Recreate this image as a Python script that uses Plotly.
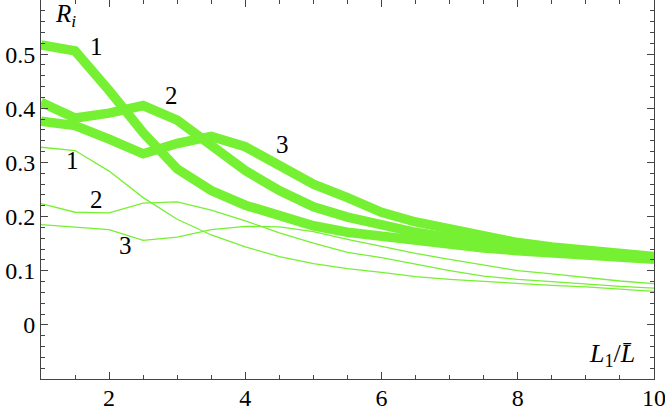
import plotly.graph_objects as go

x_vals = [1, 1.5, 2, 2.5, 3, 3.5, 4, 4.5, 5, 5.5, 6, 6.5, 7, 7.5, 8, 8.5, 9, 9.5, 10]

thick_1 = [0.517, 0.506, 0.433, 0.355, 0.288, 0.248, 0.221, 0.202, 0.183, 0.171, 0.163, 0.156, 0.148, 0.142, 0.137, 0.133, 0.129, 0.125, 0.121]
thick_2 = [0.411, 0.382, 0.391, 0.405, 0.378, 0.331, 0.285, 0.248, 0.218, 0.199, 0.184, 0.171, 0.161, 0.152, 0.144, 0.138, 0.133, 0.128, 0.124]
thick_3 = [0.376, 0.368, 0.343, 0.316, 0.335, 0.348, 0.329, 0.295, 0.260, 0.235, 0.208, 0.190, 0.176, 0.163, 0.152, 0.144, 0.137, 0.131, 0.126]

thin_1 = [0.328, 0.322, 0.284, 0.235, 0.195, 0.166, 0.144, 0.126, 0.113, 0.104, 0.097, 0.089, 0.084, 0.080, 0.076, 0.073, 0.070, 0.066, 0.062]
thin_2 = [0.224, 0.208, 0.207, 0.225, 0.227, 0.212, 0.192, 0.170, 0.151, 0.134, 0.124, 0.112, 0.100, 0.090, 0.084, 0.080, 0.075, 0.071, 0.068]
thin_3 = [0.185, 0.181, 0.176, 0.156, 0.162, 0.176, 0.182, 0.181, 0.172, 0.158, 0.145, 0.132, 0.121, 0.110, 0.100, 0.094, 0.087, 0.081, 0.076]

x_ticks = [2, 4, 6, 8, 10]
x_ticktext = ["2", "4", "6", "8", "10"]
y_ticks = [0, 0.1, 0.2, 0.3, 0.4, 0.5]
y_ticktext = ["0", "0.1", "0.2", "0.3", "0.4", "0.5"]

thick_labels = ["1", "2", "3"]
thick_label_x = [1.82, 2.92, 4.55]
thick_label_y = [0.515, 0.423, 0.334]
thin_labels = ["1", "2", "3"]
thin_label_x = [1.46, 1.82, 2.24]
thin_label_y = [0.303, 0.232, 0.146]

GREEN = "rgb(118,240,50)"
FONT = "Liberation Serif"

fig = go.Figure()
for ys in (thin_1, thin_2, thin_3):
    fig.add_trace(go.Scatter(x=x_vals, y=ys, mode="lines",
                             line=dict(color=GREEN, width=1.3), showlegend=False))
for ys in (thick_1, thick_2, thick_3):
    fig.add_trace(go.Scatter(x=x_vals, y=ys, mode="lines",
                             line=dict(color=GREEN, width=9.5), showlegend=False))

for t, xx, yy in zip(thick_labels + thin_labels, thick_label_x + thin_label_x,
                     thick_label_y + thin_label_y):
    fig.add_annotation(x=xx, y=yy, text=t, showarrow=False,
                       font=dict(family=FONT, size=25, color="black"))

fig.add_annotation(x=1.36, y=0.572, text="<i>R</i><sub><i>i</i></sub>", showarrow=False,
                   font=dict(family=FONT, size=25, color="black"))
fig.add_annotation(x=9.38, y=-0.055, text="<i>L</i><sub>1</sub>/<i>L\u0304</i>", showarrow=False,
                   font=dict(family=FONT, size=26, color="black"))

axis_common = dict(showgrid=False, zeroline=False, showline=True, linecolor="#444",
                   linewidth=1, mirror="ticks", ticks="inside", tickcolor="#444",
                   automargin=False, ticklabeloverflow="allow",
                   tickfont=dict(family=FONT, size=24, color="black"))

fig.update_xaxes(range=[1, 10], tickvals=x_ticks, ticktext=x_ticktext, ticklen=7,
                 ticklabelstandoff=-3,
                 minor=dict(dtick=0.5, tick0=1, ticks="inside", ticklen=4, tickcolor="#444"),
                 **axis_common)
fig.update_yaxes(range=[-0.1, 0.6], tickvals=y_ticks, ticktext=y_ticktext, ticklen=7,
                 minor=dict(dtick=0.02, tick0=0, ticks="inside", ticklen=4, tickcolor="#444"),
                 **axis_common)

fig.update_layout(width=665, height=407, margin=dict(l=41, r=11, t=0, b=28),
                  font=dict(family=FONT),
                  plot_bgcolor="white", paper_bgcolor="white", showlegend=False)

fig.write_html("out.html", config={"displayModeBar": False},
               post_script="document.body.style.margin='0';document.body.style.overflow='hidden';")
